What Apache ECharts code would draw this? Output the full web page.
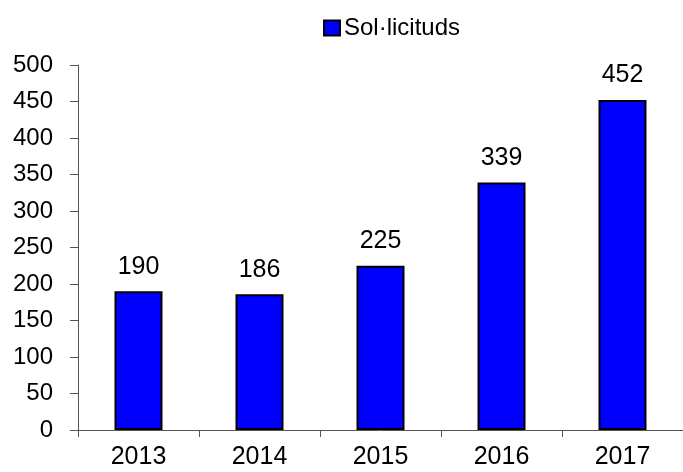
<!DOCTYPE html>
<html>
<head>
<meta charset="utf-8">
<script src="https://cdn.jsdelivr.net/npm/echarts@6/dist/echarts.min.js"></script>
<style>
  html, body { margin: 0; padding: 0; background: #fff; }
  #chart { width: 683px; height: 472px; }
</style>
</head>
<body>
<div id="chart"></div>
<script>
// dades del gràfic
const years = ['2013', '2014', '2015', '2016', '2017']
const requests = [190, 186, 225, 339, 452]
const seriesName = 'Sol·licituds'

const font = 'Liberation Sans, Arial, sans-serif'

const chart = echarts.init(document.getElementById('chart'))

chart.setOption({
  animation: false,
  legend: {
    data: [seriesName],
    left: 318,
    top: 11,
    itemWidth: 16,
    itemHeight: 15,
    itemGap: 4,
    icon: 'rect',
    itemStyle: { color: '#0000ff', borderColor: '#000', borderWidth: 2 },
    textStyle: { fontFamily: font, fontSize: 24, color: '#000', padding: [0, 0, 3, -1] }
  },
  grid: { left: 78, right: -2, top: 65, bottom: 42 },
  xAxis: {
    type: 'category',
    data: years,
    axisLine: { lineStyle: { color: '#555', width: 1 } },
    axisTick: { show: true, length: 7, lineStyle: { color: '#555' } },
    axisLabel: { margin: 15, fontFamily: font, fontSize: 25, color: '#000' }
  },
  yAxis: {
    type: 'value',
    min: 0,
    max: 500,
    interval: 50,
    splitLine: { show: false },
    axisLine: { show: true, lineStyle: { color: '#555', width: 1 } },
    axisTick: { show: true, length: 8, lineStyle: { color: '#555' } },
    axisLabel: { margin: 25, fontFamily: font, fontSize: 24, color: '#000' }
  },
  series: [
    {
      name: seriesName,
      type: 'bar',
      data: requests,
      barWidth: 48,
      itemStyle: { color: '#0000ff', borderColor: '#000', borderWidth: 2 },
      label: {
        show: true,
        position: 'top',
        distance: 12,
        fontFamily: font,
        fontSize: 25,
        color: '#000'
      }
    }
  ]
})
</script>
</body>
</html>
